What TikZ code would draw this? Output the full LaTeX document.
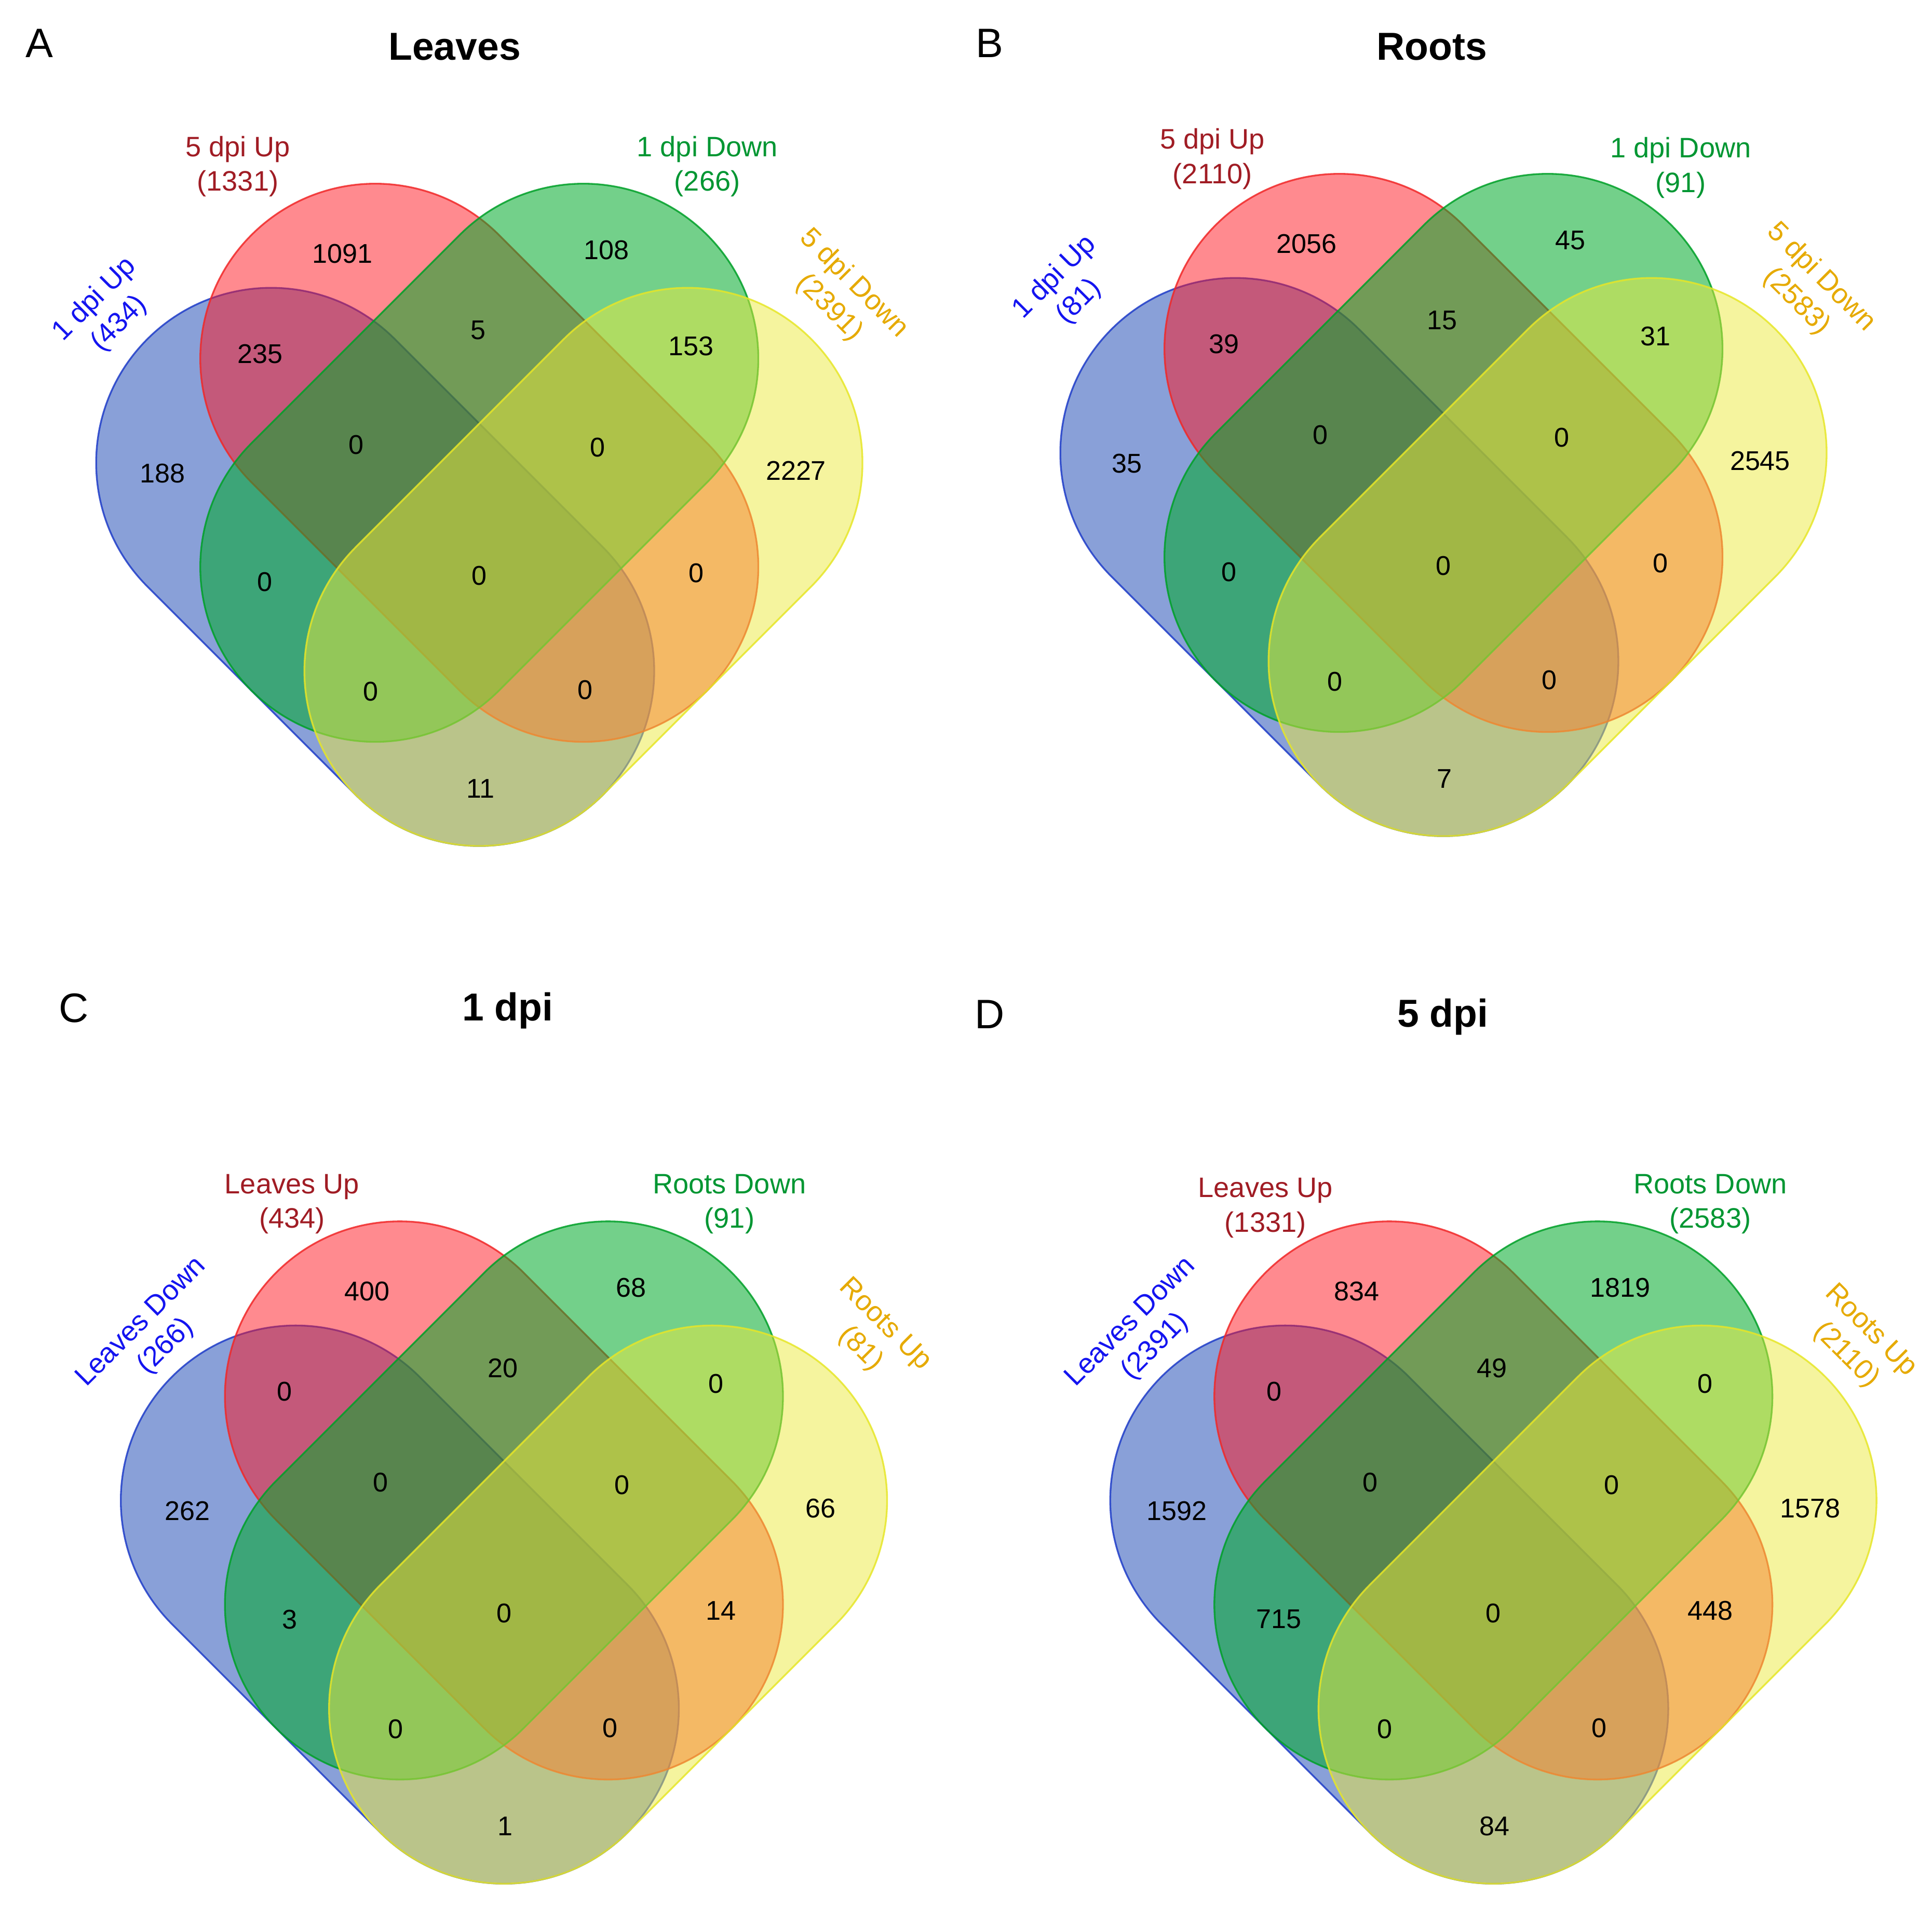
\documentclass[tikz,border=0pt]{standalone}
\usepackage{fontspec}
\setmainfont{Liberation Sans}
\usetikzlibrary{shapes.misc}

% set colours
\definecolor{fillblue}{RGB}{19,65,177}
\definecolor{fillred}{RGB}{255,21,31}
\definecolor{fillgreen}{RGB}{0,170,42}
\definecolor{fillyellow}{RGB}{235,233,61}
\definecolor{lineblue}{RGB}{30,60,200}
\definecolor{linered}{RGB}{240,40,40}
\definecolor{linegreen}{RGB}{0,160,40}
\definecolor{lineyellow}{RGB}{230,230,40}
\definecolor{labblue}{RGB}{20,20,240}
\definecolor{labred}{RGB}{160,28,36}
\definecolor{labgreen}{RGB}{0,150,50}
\definecolor{labyellow}{RGB}{230,170,0}

% one four-set diagram: name, centre x, centre y, counts
\newcommand{\vennset}[4]{%
	\begin{scope}[shift={(#2,#3)}]
		\node[stadium, fill=fillblue, draw=lineblue, rotate=-45] (#1-blue) at (-84.5,0) {};
		\node[stadium, fill=fillred, draw=linered, rotate=-45] (#1-red) at (0,-84.5) {};
		\node[stadium, fill=fillgreen, draw=linegreen, fill opacity=0.55, rotate=45] (#1-green) at (0,-84.5) {};
		\node[stadium, fill=fillyellow, draw=lineyellow, rotate=45] (#1-yellow) at (84.5,0) {};
		\foreach \n [count=\i from 0] in {#4} {
			\pgfmathsetmacro{\dx}{{-111,103,-178,-1,172,-257,-100,96,257,-174,0,176,-88,86,1}[\i]}
			\pgfmathsetmacro{\dy}{{-254,-257,-173,-192,-179,-76,-99,-97,-78,12,7,5,101,100,180}[\i]}
			\node[numlabel] (#1-n\i) at (\dx,\dy) {\n};
		}
	\end{scope}}

\begin{document}
\begin{tikzpicture}[x=0.02cm, y=-0.02cm,
	stadium/.style={rounded rectangle, inner sep=0pt, minimum width=10.46cm,
		minimum height=5.68cm, fill opacity=0.5, draw opacity=0.85, line width=0.8pt},
	numlabel/.style={font=\fontsize{12.5}{15}\selectfont, inner sep=0pt},
	setlabel/.style={font=\fontsize{13}{16}\selectfont, align=center, inner sep=0pt},
	paneltitle/.style={font=\fontsize{18}{21}\selectfont\bfseries, inner sep=0pt},
	panelletter/.style={font=\fontsize{19}{22}\selectfont, inner sep=0pt}]
	\useasboundingbox (0,0) rectangle (1568,1549);
	
	% Panel A
	\node[panelletter] (A-letter) at (32,35) {A};
	\node[paneltitle] (A-title) at (369,38) {Leaves};
	\vennset{A}{389}{460}{1091,108,235,5,153,188,0,0,2227,0,0,0,0,0,11}
	\node[setlabel, text=labred] (A-lred) at (193,135) {5 dpi Up\\(1331)};
	\node[setlabel, text=labgreen] (A-lgreen) at (574,135) {1 dpi Down\\(266)};
	\node[setlabel, text=labblue, rotate=45] (A-lblue) at (87,253) {1 dpi Up\\(434)};
	\node[setlabel, text=labyellow, rotate=-45] (A-lyellow) at (683,240) {5 dpi Down\\(2391)};
	
	% Panel B
	\node[panelletter] (B-letter) at (803,35) {B};
	\node[paneltitle] (B-title) at (1162,38) {Roots};
	\vennset{B}{1171.5}{452}{2056,45,39,15,31,35,0,0,2545,0,0,0,0,0,7}
	\node[setlabel, text=labred] (B-lred) at (984,129) {5 dpi Up\\(2110)};
	\node[setlabel, text=labgreen] (B-lgreen) at (1364,136) {1 dpi Down\\(91)};
	\node[setlabel, text=labblue, rotate=45] (B-lblue) at (866,235) {1 dpi Up\\(81)};
	\node[setlabel, text=labyellow, rotate=-45] (B-lyellow) at (1468,235) {5 dpi Down\\(2583)};
	
	% Panel C
	\node[panelletter] (C-letter) at (60,818) {C};
	\node[paneltitle] (C-title) at (412,820) {1 dpi};
	\vennset{C}{409}{1302}{400,68,0,20,0,262,0,0,66,3,0,14,0,0,1}
	\node[setlabel, text=labred] (C-lred) at (237,977) {Leaves Up\\(434)};
	\node[setlabel, text=labgreen] (C-lgreen) at (592,977) {Roots Down\\(91)};
	\node[setlabel, text=labblue, rotate=45] (C-lblue) at (125,1083) {Leaves Down\\(266)};
	\node[setlabel, text=labyellow, rotate=-45] (C-lyellow) at (708,1085) {Roots Up\\(81)};
	
	% Panel D
	\node[panelletter] (D-letter) at (803,823) {D};
	\node[paneltitle] (D-title) at (1171,825) {5 dpi};
	\vennset{D}{1212}{1302}{834,1819,0,49,0,1592,0,0,1578,715,0,448,0,0,84}
	\node[setlabel, text=labred] (D-lred) at (1027,980) {Leaves Up\\(1331)};
	\node[setlabel, text=labgreen] (D-lgreen) at (1388,977) {Roots Down\\(2583)};
	\node[setlabel, text=labblue, rotate=45] (D-lblue) at (928,1083) {Leaves Down\\(2391)};
	\node[setlabel, text=labyellow, rotate=-45] (D-lyellow) at (1508,1090) {Roots Up\\(2110)};
\end{tikzpicture}
\end{document}
